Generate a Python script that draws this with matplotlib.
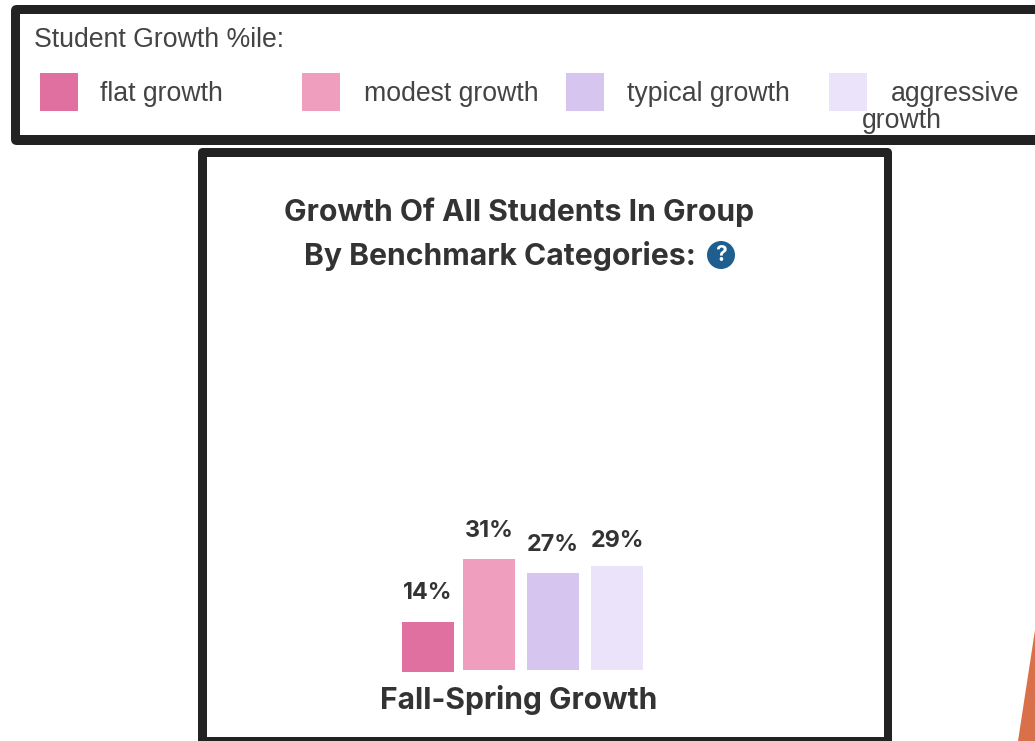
import matplotlib
matplotlib.use('Agg')
from matplotlib import pyplot as plt
from matplotlib.patches import Circle, FancyBboxPatch, Polygon, Rectangle

categories = ['flat growth', 'modest growth', 'typical growth', 'aggressive']
values = [14, 31, 27, 29]
value_labels = ['14%', '31%', '27%', '29%']
bar_positions = [0.047, 1, 2, 3]
bar_bottoms = [-0.6, 0, 0, 0]
label_pads = [29, 28, 28, 25]
colors = ['#e0709f', '#ef9fbd', '#d6c5ee', '#ebe3f9']

legend_title = 'Student Growth %ile:'
chart_title = ['Growth Of All Students In Group', 'By Benchmark Categories:']
xlabel = 'Fall-Spring Growth'

W, H = 1035, 741
DARK = '#222222'

fig = plt.figure(figsize=(W / 100, H / 100), dpi=100)

# Overlay in pixel coords for the frames and the text
bg = fig.add_axes([0, 0, 1, 1])
bg.set_xlim(0, W)
bg.set_ylim(H, 0)
bg.axis('off')

# Top legend frame, runs off the right edge
bg.add_patch(FancyBboxPatch((11, 5), 1100, 140, boxstyle='round,pad=0,rounding_size=6',
                            fc=DARK, ec='none'))
bg.add_patch(Rectangle((20, 14), 1100, 121, fc='white', ec='none'))

# Chart frame, runs off the bottom edge
bg.add_patch(FancyBboxPatch((198, 148), 694, 650, boxstyle='round,pad=0,rounding_size=5',
                            fc=DARK, ec='none'))
bg.add_patch(Rectangle((207, 157), 677, 580, fc='white', ec='none'))

# Orange corner of the slide background
bg.add_patch(Polygon([(1035, 630), (1035, 741), (1018, 741)], fc='#d8704a', ec='none'))

# Legend
legend_font = dict(family='Liberation Sans', color='#444444', fontsize=19.2, va='center')
bg.text(34, 40, legend_title, **legend_font)
swatch_x = [40, 302, 566, 829]
text_x = [100, 364, 627, 891]
for sx, tx, name, c in zip(swatch_x, text_x, categories, colors):
    bg.add_patch(Rectangle((sx, 73), 38, 38, fc=c, ec='none'))
    bg.text(tx, 94, name, **legend_font)
bg.text(862, 121, 'growth', **legend_font)

# Chart title
title_font = dict(family='Inter', weight='bold', color='#333333', ha='center', va='center')
bg.text(519, 212, chart_title[0], fontsize=21.7, **title_font)
bg.text(500, 256, chart_title[1], fontsize=21.7, **title_font)
bg.add_patch(Circle((721, 255), 14, fc='#1f5f8f', ec='none'))
bg.text(721, 255, '?', color='white', fontsize=15, weight='bold', family='Inter',
        ha='center', va='center')
bg.text(519, 700, xlabel, fontsize=21.6, **title_font)

# Bars, on their own value axis
left, right, top, bottom = 396, 652, 500, 690
scale = 3.58
slot = 64
ax = fig.add_axes([left / W, 1 - bottom / H, (right - left) / W, (bottom - top) / H])
ax.patch.set_alpha(0)
ax.set_xlim((left - 425) / slot, (right - 425) / slot)
ax.set_ylim((670 - bottom) / scale, (670 - top) / scale)
ax.axis('off')
bars = ax.bar(bar_positions, values, width=52 / slot, bottom=bar_bottoms, color=colors)
for rect, label, pad in zip(bars, value_labels, label_pads):
    ax.annotate(label, (rect.get_x() + rect.get_width() / 2, rect.get_y() + rect.get_height()),
                xytext=(0, pad * 0.72), textcoords='offset points', ha='center', va='center',
                family='Inter', weight='bold', fontsize=16.8, color='#333333')

fig.savefig('out.png', dpi=100)
